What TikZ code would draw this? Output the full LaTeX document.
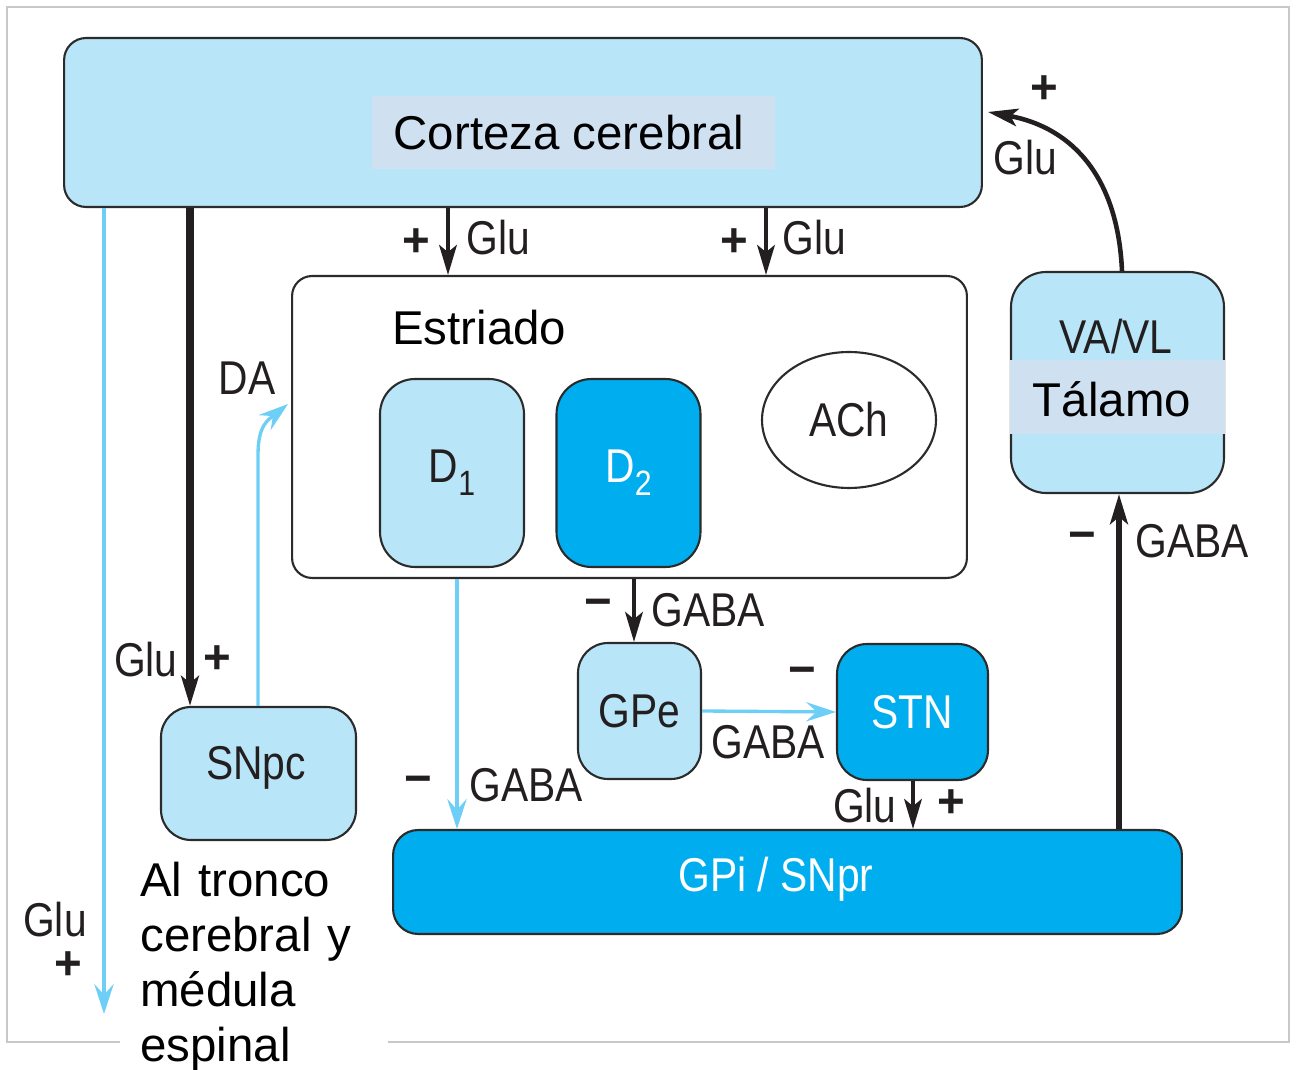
\documentclass[tikz,border=0pt]{standalone}
\usepackage{fontspec}
\setmainfont{Liberation Sans}
\newfontfamily\labfont[FakeStretch=0.86]{Liberation Sans}
\usetikzlibrary{arrows.meta,shapes.geometric}

\definecolor{pale}{HTML}{B9E5F8}
\definecolor{vivid}{HTML}{00AEEF}
\definecolor{band}{HTML}{CFE0F1}
\definecolor{cyanline}{HTML}{6DCFF6}
\definecolor{ink}{HTML}{231F20}
\definecolor{edge}{HTML}{2B2B2B}
\definecolor{framegray}{HTML}{C8C8C8}

\tikzset{
  bigtext/.style={font=\fontsize{27}{31.2}\selectfont, text=black},
  lab/.style={font=\labfont\fontsize{27}{31}\selectfont, text=ink},
  signtext/.style={font=\bfseries\fontsize{27}{30}\selectfont, text=ink},
  boxline/.style={draw=edge, line width=1.2pt, inner sep=0pt},
  boxpale/.style={boxline, fill=pale},
  boxvivid/.style={boxline, fill=vivid},
  darkarrow/.style={draw=ink, line width=#1, -{Stealth[length=17pt,width=10pt,inset=4pt]}},
  darkarrow/.default=2.4pt,
  cyanarrow/.style={draw=cyanline, line width=1.9pt, -{Stealth[length=17pt,width=11pt,inset=6pt]}},
}

\begin{document}
\begin{tikzpicture}[x=0.02cm, y=-0.02cm]
\useasboundingbox (0,0) rectangle (1296,1070);

% outer frame
\draw[framegray, line width=0.8pt] (7,7) rectangle (1289,1042);

% column positions for vertical connectors
\coordinate (c104) at (104,0);
\coordinate (c190) at (190,0);
\coordinate (c258) at (258,0);
\coordinate (c448) at (448,0);
\coordinate (c457) at (457,0);
\coordinate (c634) at (634,0);
\coordinate (c766) at (766,0);
\coordinate (c913) at (913,0);
\coordinate (c1119) at (1119,0);
\coordinate (c1122) at (1122,0);
\coordinate (spinal) at (104,1014);
\coordinate (dahead) at (288,404);
\coordinate (ctxtip) at (988,112);

% cortex
\node[boxpale, rounded corners=0.44cm, minimum width=18.36cm, minimum height=3.38cm] (ctx) at (523,122.5) {};
\node[fill=band, inner sep=0pt, minimum width=8.06cm, minimum height=1.46cm] (ctxband) at (573.5,132.5) {};
\node[bigtext] (ctxlab) at (569,132.5) {Corteza cerebral};

% striatum
\node[boxline, fill=white, rounded corners=0.4cm, minimum width=13.5cm, minimum height=6.04cm] (str) at (629.5,427) {};
\node[bigtext, anchor=west, inner sep=0pt] (strlab) at (392,328) {Estriado};
\node[boxpale, rounded corners=0.7cm, minimum width=2.88cm, minimum height=3.76cm, lab] (d1) at (452,473)
  {D\raisebox{-0.28em}{\fontsize{20}{20}\selectfont 1}};
\node[boxvivid, rounded corners=0.7cm, minimum width=2.88cm, minimum height=3.76cm, lab, text=white] (d2) at (628.5,473)
  {D\raisebox{-0.28em}{\fontsize{20}{20}\selectfont 2}};
\node[ellipse, boxline, fill=white, minimum width=3.48cm, minimum height=2.72cm, lab] (ach) at (849,420) {ACh};

% thalamus
\node[boxpale, rounded corners=0.7cm, minimum width=4.26cm, minimum height=4.42cm] (thal) at (1117.5,382.5) {};
\node[fill=band, inner sep=0pt, minimum width=4.3cm, minimum height=1.48cm] (thalband) at (1117.5,397) {};
\node[bigtext] (thallab) at (1112,399) {Tálamo};
\node[lab] (vavl) at (1116,337) {VA/VL};

% lower nuclei
\node[boxpale, rounded corners=0.6cm, minimum width=3.9cm, minimum height=2.66cm] (snpc) at (258.5,773.5) {};
\node[lab] (snpclab) at (256,768) {SNpc};
\node[boxpale, rounded corners=0.6cm, minimum width=2.46cm, minimum height=2.72cm, lab] (gpe) at (639.5,711) {GPe};
\node[boxvivid, rounded corners=0.6cm, minimum width=3.02cm, minimum height=2.72cm, lab, text=white] (stn) at (912.5,712) {STN};
\node[boxvivid, rounded corners=0.5cm, minimum width=15.78cm, minimum height=2.08cm] (gpi) at (787.5,882) {};
\node[lab, text=white] (gpilab) at (776,879) {GPi / SNpr};

% black (glutamate / GABA) connectors
\draw[darkarrow=2.4pt] (ctx.south -| c448) -- (str.north -| c448);
\draw[darkarrow=2.4pt] (ctx.south -| c766) -- (str.north -| c766);
\draw[darkarrow=4pt] (ctx.south -| c190) -- (snpc.north -| c190);
\draw[darkarrow=2.4pt] (str.south -| c634) -- (gpe.north -| c634);
\draw[darkarrow=2.4pt] (stn.south -| c913) -- (gpi.north -| c913);
\draw[darkarrow=3.6pt] (gpi.north -| c1119) -- (thal.south -| c1119);
\draw[darkarrow=2.6pt] (thal.north -| c1122) .. controls (1118,180) and (1075,128) .. (ctxtip);

% cyan connectors
\draw[cyanarrow] (ctx.south -| c104) -- (spinal);
\draw[cyanarrow] (snpc.north -| c258) -- (258,455) .. controls (258,425) and (268,420) .. (dahead);
\draw[cyanarrow] (str.south -| c457) -- (gpi.north -| c457);
\draw[cyanarrow] (gpe.east) -- (stn.west);

% connector labels
\node[signtext] (p1) at (416,243) {+};
\node[lab, anchor=west, inner sep=0pt] (g1) at (466,238) {Glu};
\node[signtext] (p2) at (734,243) {+};
\node[lab, anchor=west, inner sep=0pt] (g2) at (782,238) {Glu};
\node[lab, anchor=east, inner sep=0pt] (g3) at (178,660) {Glu};
\node[signtext] (p3) at (217,660) {+};
\node[lab] (da) at (247,378) {DA};
\node[lab] (g4) at (55,920) {Glu};
\node[signtext] (p4) at (68,966) {+};
\node[signtext] (m1) at (418,785) {−};
\node[lab, anchor=west, inner sep=0pt] (ga1) at (469,785) {GABA};
\node[signtext] (m2) at (598,608) {−};
\node[lab, anchor=west, inner sep=0pt] (ga2) at (651,610) {GABA};
\node[signtext] (m3) at (802,676) {−};
\node[lab] (ga3) at (768,742) {GABA};
\node[lab, anchor=east, inner sep=0pt] (g5) at (897,806) {Glu};
\node[signtext] (p5) at (951,804) {+};
\node[signtext] (m4) at (1082,541) {−};
\node[lab, anchor=west, inner sep=0pt] (ga4) at (1135,541) {GABA};
\node[signtext] (p6) at (1044,90) {+};
\node[lab] (g6) at (1025,158) {Glu};

% descending target caption
\node[anchor=north west, fill=white, inner xsep=0.4cm, inner ysep=0.2cm, text width=4.56cm, align=left, bigtext] (stem) at (120,852)
  {Al tronco\\cerebral y\\médula\\espinal};
\end{tikzpicture}
\end{document}
